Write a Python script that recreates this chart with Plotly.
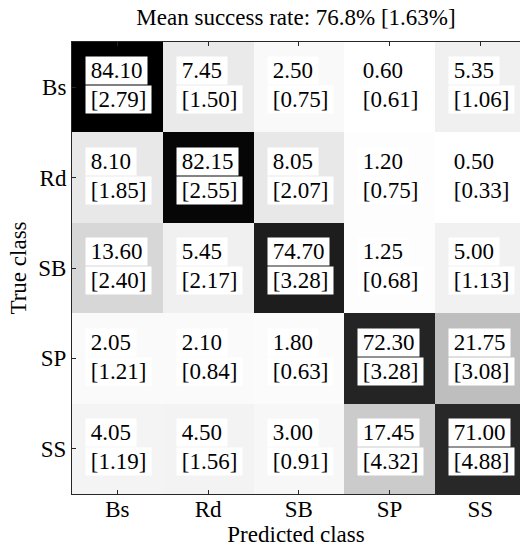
import plotly.graph_objects as go

# Confusion matrix: mean rates [%] and their standard deviations
classes = ["Bs", "Rd", "SB", "SP", "SS"]
mean_rate = [
    [84.10, 7.45, 2.50, 0.60, 5.35],
    [8.10, 82.15, 8.05, 1.20, 0.50],
    [13.60, 5.45, 74.70, 1.25, 5.00],
    [2.05, 2.10, 1.80, 72.30, 21.75],
    [4.05, 4.50, 3.00, 17.45, 71.00],
]
std_rate = [
    [2.79, 1.50, 0.75, 0.61, 1.06],
    [1.85, 2.55, 2.07, 0.75, 0.33],
    [2.40, 2.17, 3.28, 0.68, 1.13],
    [1.21, 0.84, 0.63, 3.28, 3.08],
    [1.19, 1.56, 0.91, 4.32, 4.88],
]
overall_mean = 76.8
overall_std = 1.63

FONT = "Liberation Serif"
FS = 23
PAD = "\u2006"  # narrow space to widen the white label boxes a little
n = len(classes)
idx = list(range(n))

flat = [v for row in mean_rate for v in row]
fig = go.Figure(
    go.Heatmap(
        z=mean_rate,
        x=idx,
        y=idx,
        colorscale=[[0, "white"], [1, "black"]],
        zmin=min(flat),
        zmax=max(flat),
        showscale=False,
        hoverinfo="skip",
    )
)

# Two stacked text lines per cell, each on its own white box
for i in range(n):
    for j in range(n):
        common = dict(
            x=j - 0.355,
            y=i - 0.02,
            xref="x",
            yref="y",
            xanchor="left",
            showarrow=False,
            bgcolor="white",
            borderpad=1,
            font=dict(family=FONT, size=FS, color="black"),
        )
        fig.add_annotation(text=f"{PAD}{mean_rate[i][j]:.2f}{PAD}", yanchor="bottom", **common)
        fig.add_annotation(text=f"{PAD}[{std_rate[i][j]:.2f}]{PAD}", yanchor="top", **common)

axis_color = "#262626"
fig.update_layout(
    width=520,
    height=547,
    margin=dict(l=72, r=0, t=42, b=53),
    paper_bgcolor="white",
    plot_bgcolor="white",
    font=dict(family=FONT, size=FS, color="black"),
    title=dict(
        text=f"Mean success rate: {overall_mean:.1f}% [{overall_std:.2f}%]",
        x=0.5,
        xref="paper",
        xanchor="center",
        y=1 - 25 / 547,
        yanchor="bottom",
        font=dict(family=FONT, size=FS, color="black"),
    ),
    xaxis=dict(
        range=[-0.5, 4.437],
        tickvals=idx,
        ticktext=classes,
        ticks="inside",
        ticklen=4,
        tickcolor=axis_color,
        ticklabelstandoff=-6,
        showline=True,
        linecolor=axis_color,
        linewidth=1,
        mirror="ticks",
        showgrid=False,
        zeroline=False,
        title=dict(text="Predicted class", standoff=0, font=dict(family=FONT, size=FS)),
        tickfont=dict(family=FONT, size=FS),
    ),
    yaxis=dict(
        range=[4.5, -0.5],
        tickvals=idx,
        ticktext=classes,
        ticks="inside",
        ticklen=4,
        tickcolor=axis_color,
        showline=True,
        linecolor=axis_color,
        linewidth=1,
        showgrid=False,
        zeroline=False,
        title=dict(text="True class", standoff=5, font=dict(family=FONT, size=FS)),
        tickfont=dict(family=FONT, size=FS),
    ),
)

fig.write_html("out.html")
